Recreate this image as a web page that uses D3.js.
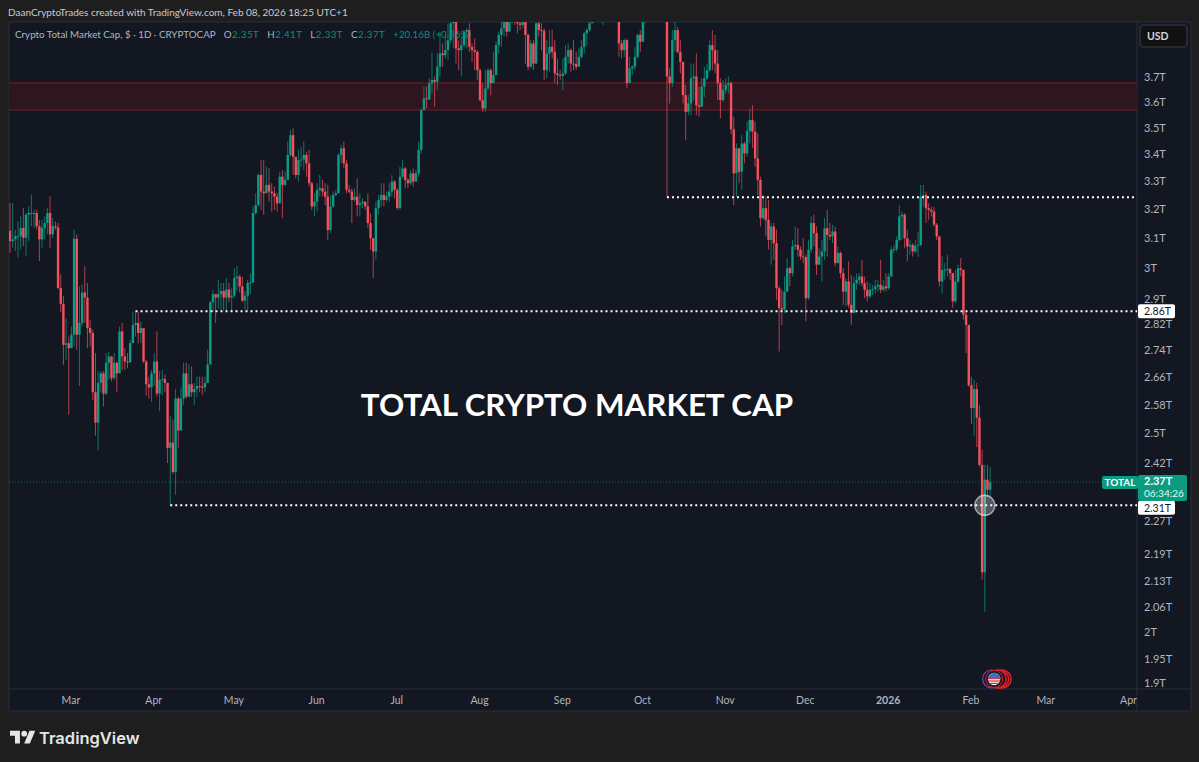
<!DOCTYPE html>
<html>
<head>
<meta charset="utf-8">
<title>Crypto Total Market Cap</title>
<script src="https://cdn.jsdelivr.net/npm/d3@7"></script>
<style>
  html, body { margin: 0; padding: 0; background: #1e1e1e; overflow: hidden; }
  svg { display: block; }
  text { font-family: Lato, "Open Sans", sans-serif; }
</style>
</head>
<body>
<svg id="chart" width="1199" height="762"></svg>
<script>
// Daily candles in billions of USD. First candle is 6 Feb 2025.
// Candles above the top of the pane (Sep/Oct 2025) are rough guesses, they get clipped anyway.
const firstDate = new Date(Date.UTC(2025, 1, 6));
const firstOpen = 3124;

const closes = [
  3089,3095,3106,3106,3134,3100,3180,3186,3186,3186,3140,3095,3134,3151,3186,3112,3140,3136,2934,2883,
  2756,2761,2746,2787,3097,2787,2823,2919,2903,2807,2792,2616,2530,2643,2671,2612,2702,2721,2657,2702,
  2671,2797,2721,2706,2703,2761,2817,2823,2792,2807,2706,2639,2630,2671,2706,2612,2652,2654,2643,2461,
  2475,2396,2598,2508,2598,2671,2603,2639,2616,2625,2634,2632,2630,2643,2697,2888,2914,2903,2914,2924,
  2903,2929,2903,2909,2966,2971,2939,2893,2909,2950,2952,3186,3214,3322,3262,3256,3286,3262,3256,3244,
  3220,3316,3286,3304,3396,3471,3389,3322,3377,3379,3396,3365,3292,3209,3226,3268,3274,3262,3244,3127,
  3209,3250,3256,3396,3421,3365,3268,3262,3232,3244,3214,3220,3226,3209,3151,3099,3054,3203,3232,3250,
  3232,3244,3262,3298,3268,3203,3316,3346,3304,3292,3328,3298,3328,3415,3568,3614,3610,3675,3688,3681,
  3742,3797,3790,3811,3853,3925,3968,3818,3811,3832,3889,3896,3825,3811,3804,3728,3607,3574,3654,3728,
  3675,3708,3832,3875,3903,3953,3889,3946,3982,3946,3925,3918,3953,3875,3742,3839,3755,3925,3896,3893,
  3728,3797,3825,3804,3715,3708,3704,3715,3783,3811,3755,3753,3742,3783,3825,3882,3896,3925,3985,4010,
  4030,3990,4000,4040,4020,4050,4020,3990,3839,3811,3853,3675,3735,3742,3783,3875,3846,3932,3990,4060,
  4120,4200,4240,4180,4150,4170,3702,3675,3853,3896,3804,3762,3627,3561,3594,3695,3702,3587,3581,3661,
  3695,3728,3832,3811,3755,3675,3607,3648,3668,3675,3493,3328,3421,3334,3439,3402,3487,3529,3484,3383,
  3304,3168,3203,3162,3093,3139,3082,2933,2870,2865,2922,2998,2982,3071,3076,3060,3037,3035,2901,3060,
  3151,3116,3010,3037,3054,3133,3110,3105,3122,3015,3049,2982,2922,2955,2880,2854,2949,2960,2971,2949,
  2928,2907,2928,2930,2939,2944,2928,2939,2933,2971,3060,3062,3093,3174,3180,3099,3071,3076,3054,3073,
  3076,3244,3250,3203,3197,3191,3145,3105,2955,2992,2993,2996,2982,2891,2955,2998,2993,2849,2817,2636,
  2571,2625,2544,2415,2146,2376,2350,2370
];

const highs = [
  3221,3221,3128,3157,3174,3204,3186,3210,3251,3198,3198,3162,3162,3174,3204,3245,3168,3157,3151,2977,
  2908,2838,2781,2812,3128,3112,2939,2945,3005,2950,2833,2802,2731,2677,2677,2677,2731,2736,2721,2731,
  2706,2812,2823,2746,2731,2771,2858,2860,2858,2828,2807,2711,2661,2681,2731,2797,2677,2681,2667,2643,
  2549,2539,2625,2603,2630,2702,2702,2697,2691,2643,2661,2661,2661,2661,2741,2893,2929,2914,2960,2950,
  2950,2966,2950,2934,2999,3005,2977,2971,2924,2960,2982,3210,3256,3328,3377,3377,3352,3346,3292,3280,
  3256,3334,3340,3334,3446,3490,3497,3383,3415,3427,3446,3408,3415,3298,3256,3292,3322,3304,3292,3286,
  3250,3262,3268,3402,3434,3446,3377,3286,3274,3274,3310,3256,3238,3226,3256,3185,3099,3226,3250,3292,
  3292,3262,3292,3322,3304,3274,3352,3377,3352,3310,3340,3346,3340,3446,3574,3661,3661,3695,3799,3702,
  3797,3889,3839,3875,3925,3960,3985,3990,3853,3868,3896,3903,3925,3839,3860,3811,3735,3675,3728,3735,
  3735,3804,3846,3889,3939,3975,3960,3968,4003,3989,3960,3932,3975,3968,3882,3853,3853,3953,3953,3925,
  3903,3853,3896,3896,3853,3776,3728,3776,3832,3839,3818,3853,3804,3818,3853,3889,3903,3946,4005,4030,
  4060,4040,4030,4070,4060,4080,4065,4030,3995,3853,3860,3860,3783,3748,3825,3882,3896,3960,4020,4100,
  4150,4250,4270,4260,4210,4200,4180,3735,3896,3932,3910,3853,3762,3668,3627,3755,3755,3797,3661,3695,
  3742,3755,3853,3896,3875,3811,3695,3688,3695,3702,3681,3542,3439,3421,3471,3446,3523,3574,3587,3523,
  3478,3316,3250,3244,3232,3151,3151,3128,2939,2928,2971,3032,3004,3093,3139,3133,3071,3099,3043,3093,
  3174,3180,3139,3065,3093,3168,3197,3151,3145,3139,3071,3054,2998,2965,3021,2976,2971,2982,2982,3026,
  2971,2955,2949,2944,2960,2960,3026,2960,2982,2982,3071,3076,3105,3214,3191,3185,3128,3093,3082,3093,
  3122,3286,3286,3262,3220,3208,3208,3151,3105,3037,3015,3043,2998,2982,2993,3010,3032,2993,2859,2817,
  2661,2652,2643,2580,2456,2415,2415,2410
];

const lows = [
  3050,3067,3056,3033,3060,3072,3039,3089,3140,3134,3128,3022,3067,3095,3112,3067,3100,3128,2929,2857,
  2696,2711,2552,2746,2751,2741,2634,2812,2823,2746,2751,2594,2494,2454,2616,2575,2607,2652,2648,2652,
  2616,2671,2681,2681,2686,2706,2766,2781,2761,2761,2701,2607,2598,2589,2634,2603,2562,2607,2616,2420,
  2311,2391,2337,2461,2508,2580,2598,2607,2603,2580,2603,2616,2607,2616,2643,2702,2858,2823,2868,2863,
  2863,2863,2888,2857,2903,2924,2919,2888,2863,2863,2914,2950,3180,3209,3197,3180,3256,3226,3191,3197,
  3191,3232,3168,3280,3316,3389,3322,3310,3298,3352,3340,3316,3280,3197,3174,3191,3244,3244,3214,3093,
  3116,3203,3244,3256,3365,3346,3256,3256,3151,3226,3174,3174,3203,3197,3133,3059,2966,3026,3180,3209,
  3209,3226,3226,3244,3238,3197,3197,3310,3274,3274,3286,3280,3298,3316,3402,3568,3574,3607,3634,3581,
  3647,3702,3742,3776,3769,3839,3818,3755,3728,3702,3825,3818,3804,3762,3728,3688,3601,3561,3561,3647,
  3627,3681,3715,3797,3825,3868,3868,3896,3925,3918,3882,3896,3903,3755,3728,3735,3728,3755,3868,3811,
  3688,3695,3722,3776,3675,3668,3688,3647,3708,3755,3722,3728,3728,3742,3776,3797,3832,3889,3940,3975,
  3990,3960,3918,3990,3995,4000,3985,3960,3783,3776,3783,3654,3675,3708,3728,3776,3804,3846,3925,3975,
  4040,4110,4180,4150,4100,4090,3242,3594,3661,3804,3797,3715,3594,3452,3548,3548,3607,3548,3542,3581,
  3620,3688,3722,3728,3715,3607,3536,3601,3634,3634,3474,3214,3244,3292,3268,3365,3389,3439,3421,3352,
  3250,3139,3162,3105,3060,3010,3026,2896,2736,2817,2854,2928,2939,2971,3060,3037,3026,3015,2828,2896,
  3049,3071,2976,3010,2955,3026,3037,3093,3082,3004,3026,2965,2880,2875,2870,2817,2854,2928,2944,2939,
  2901,2891,2901,2912,2917,2922,2917,2922,2922,2928,2971,3049,3054,3087,3093,3065,3021,3043,3037,3049,
  3037,3071,3208,3151,3162,3174,3139,3093,2939,2917,2960,2971,2960,2870,2885,2949,2971,2833,2731,2631,
  2526,2494,2463,2411,2129,2055,2331,2330
];

const yTickValues = [3700,3600,3500,3400,3300,3200,3100,3000,2900,2820,2740,2660,2580,2500,2420,2270,2190,2125,2065,2010,1950,1900];
const yTickLabels = ['3.7T','3.6T','3.5T','3.4T','3.3T','3.2T','3.1T','3T','2.9T','2.82T','2.74T','2.66T','2.58T','2.5T','2.42T','2.27T','2.19T','2.13T','2.06T','2T','1.95T','1.9T'];

const xTickDates = [[2025,2],[2025,3],[2025,4],[2025,5],[2025,6],[2025,7],[2025,8],[2025,9],[2025,10],[2025,11],[2026,0],[2026,1],[2026,2],[2026,3]];
const xTickLabels = ['Mar','Apr','May','Jun','Jul','Aug','Sep','Oct','Nov','Dec','2026','Feb','Mar','Apr'];

// horizontal levels drawn on the chart: [price, first day]
const levels = [
  { price: 3242, from: [2025,9,10] },
  { price: 2860, from: [2025,2,25] },
  { price: 2310, from: [2025,3,7] }
];
const zoneTop = 3676, zoneBottom = 3568;
const lastPrice = 2370;

const legendValues = [['O','2.35T'],['H','2.41T'],['L','2.33T'],['C','2.37T']];
const legendChange = '+20.16B (+0.86%)';

const upColor = '#0d9c84', downColor = '#f4515f';
const axisColor = '#b2b5be', gridLine = '#2a2e39';
const pane = { left: 9, right: 1137, top: 22, bottom: 689 };
const outer = { right: 1191, bottom: 711 };

const svg = d3.select('#chart');

const candles = closes.map((c, i) => ({
  date: d3.utcDay.offset(firstDate, i),
  open: i === 0 ? firstOpen : closes[i - 1], // daily session opens at the last close
  close: c,
  high: highs[i],
  low: lows[i]
}));

// 2.67px a day, so the axis runs from first candle to the Apr 2026 label
const x = d3.scaleUtc()
  .domain([firstDate, new Date(Date.UTC(2026, 3, 1))])
  .range([10, 1129]);

const y = d3.scaleLog()
  .domain([3700, 1900])
  .range([77, 683]);

// panel
svg.append('rect').attr('x', pane.left).attr('y', pane.top)
  .attr('width', outer.right - pane.left).attr('height', outer.bottom - pane.top)
  .attr('fill', '#131722').attr('stroke', gridLine);
svg.append('line').attr('x1', pane.right).attr('x2', pane.right).attr('y1', pane.top).attr('y2', outer.bottom).attr('stroke', gridLine);
svg.append('line').attr('x1', pane.left).attr('x2', outer.right).attr('y1', pane.bottom).attr('y2', pane.bottom).attr('stroke', gridLine);

const defs = svg.append('defs');
defs.append('clipPath').attr('id', 'paneClip')
  .append('rect').attr('x', pane.left).attr('y', pane.top)
  .attr('width', pane.right - pane.left).attr('height', pane.bottom - pane.top);

const plot = svg.append('g').attr('clip-path', 'url(#paneClip)');

// resistance zone
plot.append('rect')
  .attr('x', pane.left).attr('width', pane.right - pane.left)
  .attr('y', y(zoneTop)).attr('height', y(zoneBottom) - y(zoneTop))
  .attr('fill', '#2e1620');
plot.selectAll('line.zone').data([zoneTop, zoneBottom]).join('line')
  .attr('class', 'zone')
  .attr('x1', pane.left).attr('x2', pane.right)
  .attr('y1', d => y(d)).attr('y2', d => y(d))
  .attr('stroke', '#7f1d22');

// last price line
plot.append('line')
  .attr('x1', pane.left).attr('x2', pane.right)
  .attr('y1', y(lastPrice)).attr('y2', y(lastPrice))
  .attr('stroke', upColor).attr('stroke-opacity', 0.6)
  .attr('stroke-dasharray', '1 2');

// candles
const candleColor = d => d.close >= d.open ? upColor : downColor;
plot.selectAll('line.wick').data(candles).join('line')
  .attr('class', 'wick')
  .attr('x1', d => x(d.date)).attr('x2', d => x(d.date))
  .attr('y1', d => y(d.high)).attr('y2', d => y(d.low))
  .attr('stroke', candleColor).attr('stroke-opacity', 0.7);
plot.selectAll('rect.body').data(candles).join('rect')
  .attr('class', 'body')
  .attr('x', d => x(d.date) - 1.2).attr('width', 2.4)
  .attr('y', d => y(Math.max(d.open, d.close)))
  .attr('height', d => Math.max(1, Math.abs(y(d.open) - y(d.close))))
  .attr('fill', candleColor);

// dotted levels
plot.selectAll('line.level').data(levels).join('line')
  .attr('class', 'level')
  .attr('x1', d => x(new Date(Date.UTC(...d.from)))).attr('x2', pane.right)
  .attr('y1', d => y(d.price)).attr('y2', d => y(d.price))
  .attr('stroke', '#fff').attr('stroke-width', 2).attr('stroke-dasharray', '2 3');

// circle marker on the 2.31T retest
plot.append('circle')
  .attr('cx', x(candles[365].date)).attr('cy', y(2310)).attr('r', 10)
  .attr('fill', '#fff').attr('fill-opacity', 0.28)
  .attr('stroke', '#fff').attr('stroke-opacity', 0.55).attr('stroke-width', 1.5);

// economic event marker, stacked rings behind a small flag
const evX = x(candles[367].date) + 4, evY = 679;
[8, 5.5, 3].forEach(off => {
  svg.append('circle').attr('cx', evX + off).attr('cy', evY).attr('r', 9)
    .attr('fill', '#2a0f14').attr('stroke', '#d6222e').attr('stroke-width', 1.5);
});
svg.append('circle').attr('cx', evX - 2.5).attr('cy', evY).attr('r', 9)
  .attr('fill', '#131722').attr('stroke', '#8f3fa8').attr('stroke-width', 1.2);
svg.append('circle').attr('cx', evX).attr('cy', evY).attr('r', 8.5)
  .attr('fill', '#131722').attr('stroke', '#d6222e').attr('stroke-width', 1);
defs.append('clipPath').attr('id', 'flagClip')
  .append('circle').attr('cx', evX).attr('cy', evY).attr('r', 6.2);
const flag = svg.append('g').attr('clip-path', 'url(#flagClip)');
flag.append('rect').attr('x', evX - 7).attr('y', evY - 7).attr('width', 14).attr('height', 14).attr('fill', '#f2f2f2');
d3.range(4).forEach(k => {
  flag.append('rect').attr('x', evX - 7).attr('y', evY - 1 + k * 2.4).attr('width', 14).attr('height', 1.2).attr('fill', '#d8323e');
});
flag.append('rect').attr('x', evX - 7).attr('y', evY - 7).attr('width', 14).attr('height', 6.2).attr('fill', '#3d6fc4');

// title over the chart
svg.append('text').attr('x', 577).attr('y', 415.5).attr('text-anchor', 'middle')
  .attr('font-size', 31.3).attr('font-weight', 700).attr('fill', '#fff')
  .text('TOTAL CRYPTO MARKET CAP');

// axes
const yAxis = d3.axisRight(y)
  .tickValues(yTickValues)
  .tickFormat((d, i) => yTickLabels[i])
  .tickSize(0).tickPadding(7);
const yG = svg.append('g').attr('transform', `translate(${pane.right},0)`).call(yAxis);
yG.select('.domain').remove();
yG.selectAll('text').attr('fill', axisColor).attr('font-size', 11);

const xAxis = d3.axisBottom(x)
  .tickValues(xTickDates.map(d => new Date(Date.UTC(d[0], d[1], 1))))
  .tickFormat((d, i) => xTickLabels[i])
  .tickSize(0).tickPadding(8);
const xG = svg.append('g').attr('transform', `translate(-1,${pane.bottom})`).call(xAxis);
xG.select('.domain').remove();
xG.selectAll('text').attr('fill', axisColor).attr('font-size', 10.5)
  .attr('font-weight', (d, i) => xTickLabels[i] === '2026' ? 700 : 400);

// price tags on the axis, the lower one sits just under the last price tag
const whiteTags = [[2860, '2.86T', 0], [2310, '2.31T', 2.5]];
whiteTags.forEach(([price, label, nudge]) => {
  svg.append('rect').attr('x', pane.right + 1).attr('y', y(price) - 7 + nudge).attr('width', 37).attr('height', 14).attr('rx', 2).attr('fill', '#fff');
  svg.append('text').attr('x', pane.right + 7).attr('y', y(price) + 4 + nudge).attr('font-size', 10.5).attr('fill', '#131722').text(label);
});
const tagGreen = '#0b9c7f';
svg.append('rect').attr('x', 1102).attr('y', y(lastPrice) - 6).attr('width', 36).attr('height', 13).attr('rx', 2).attr('fill', tagGreen);
svg.append('text').attr('x', 1120).attr('y', y(lastPrice) + 4).attr('text-anchor', 'middle').attr('font-size', 10).attr('font-weight', 700).attr('fill', '#fff').text('TOTAL');
svg.append('rect').attr('x', pane.right + 1).attr('y', y(lastPrice) - 7).attr('width', 49).attr('height', 26).attr('rx', 2).attr('fill', tagGreen);
svg.append('text').attr('x', pane.right + 7).attr('y', y(lastPrice) + 3).attr('font-size', 11).attr('font-weight', 700).attr('fill', '#fff').text('2.37T');
svg.append('text').attr('x', pane.right + 7).attr('y', y(lastPrice) + 15).attr('font-size', 10).attr('fill', '#e6f5f1').text('06:34:26');

// USD button
svg.append('rect').attr('x', 1140).attr('y', 25).attr('width', 47).attr('height', 22).attr('rx', 3)
  .attr('fill', '#121214').attr('stroke', '#3a3e49');
svg.append('text').attr('x', 1147).attr('y', 40).attr('font-size', 10.5).attr('font-weight', 700).attr('fill', '#d1d4dc').text('USD');

// header line
svg.append('text').attr('x', 8).attr('y', 16).attr('font-size', 10).attr('fill', '#c8cbd2')
  .text('DaanCryptoTrades created with TradingView.com, Feb 08, 2026 18:25 UTC+1');

// legend
const legend = svg.append('text').attr('x', 15).attr('y', 38).attr('font-size', 9.8);
legend.append('tspan').attr('fill', '#b2b5be').text('Crypto Total Market Cap, $ · 1D · CRYPTOCAP');
legendValues.forEach(([k, v], i) => {
  legend.append('tspan').attr('fill', '#b2b5be').attr('dx', 8).text(k);
  legend.append('tspan').attr('fill', '#0b8f76').attr('dx', 0.5).attr('letter-spacing', 0.4).text(v);
});
legend.append('tspan').attr('fill', '#0b8f76').attr('dx', 8).text(legendChange);

// TradingView logo
const logo = svg.append('g').attr('transform', 'translate(10,728) scale(0.71)').attr('fill', '#e6e6e6');
logo.append('path').attr('d', 'M14 22H7V11H0V4h14v18zM28 22h-8l7.5-18h8L28 22z');
logo.append('circle').attr('cx', 20).attr('cy', 8).attr('r', 4);
svg.append('text').attr('x', 39).attr('y', 744).attr('font-size', 16.5).attr('font-weight', 600)
  .style('font-family', 'Inter, sans-serif').attr('fill', '#e6e6e6').text('TradingView');
</script>
</body>
</html>
